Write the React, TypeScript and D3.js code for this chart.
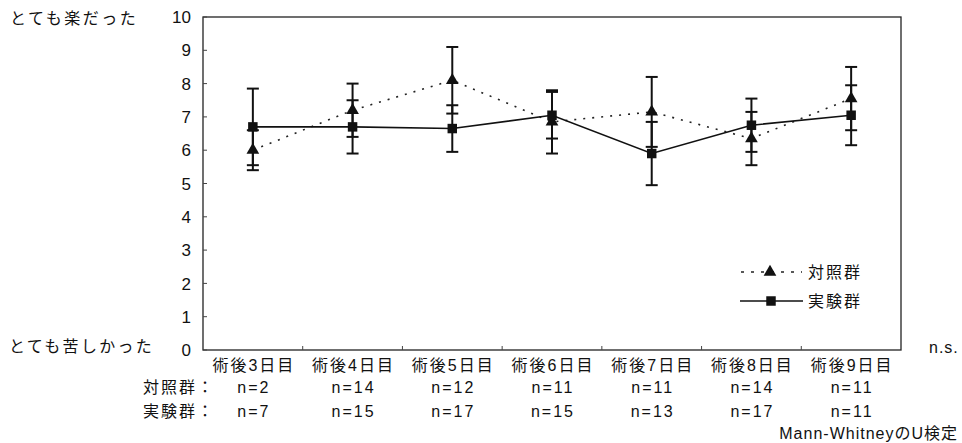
import React from 'react';
import * as d3 from 'd3';

const days = ['術後3日目', '術後4日目', '術後5日目', '術後6日目', '術後7日目', '術後8日目', '術後9日目'];
const controlMean = [6.0, 7.2, 8.1, 6.85, 7.15, 6.35, 7.55];
const controlErr = [0.6, 0.8, 1.0, 0.95, 1.05, 0.8, 0.95];
const expMean = [6.7, 6.7, 6.65, 7.05, 5.9, 6.75, 7.05];
const expErr = [1.15, 0.8, 0.7, 0.7, 0.95, 0.8, 0.9];
const controlN = ['n=2', 'n=14', 'n=12', 'n=11', 'n=11', 'n=14', 'n=11'];
const expN = ['n=7', 'n=15', 'n=17', 'n=15', 'n=13', 'n=17', 'n=11'];
const yTicks = [0, 1, 2, 3, 4, 5, 6, 7, 8, 9, 10];

const W = 962;
const H = 443;
// latin glyphs from an Arial-like face, kana/kanji fall back to the CJK gothic
const FONT = '"Liberation Sans", "Noto Sans CJK JP", sans-serif';

export default function App() {
  const left = 203, right = 901, top = 17, bottom = 350;
  const x = d3.scaleBand<string>().domain(days).range([left, right]);
  const y = d3.scaleLinear().domain([0, 10]).range([bottom, top]);
  const cx = (i: number) => (x(days[i]) as number) + x.bandwidth() / 2;

  const line = d3.line<number>().x((_, i) => cx(i)).y((d) => y(d));
  const tri = d3.symbol().type(d3.symbolTriangle).size(70)();
  const sq = d3.symbol().type(d3.symbolSquare).size(90)();

  const errBars = (means: number[], errs: number[], key: string) =>
    means.map((m, i) => {
      const x0 = cx(i);
      const y1 = y(m + errs[i]);
      const y2 = y(m - errs[i]);
      return (
        <g key={key + i} stroke="#111" strokeWidth={2}>
          <line x1={x0} x2={x0} y1={y1} y2={y2} />
          <line x1={x0 - 6} x2={x0 + 6} y1={y1} y2={y1} />
          <line x1={x0 - 6} x2={x0 + 6} y1={y2} y2={y2} />
        </g>
      );
    });

  const txt = { fontSize: 16, fill: '#111', letterSpacing: 2 } as const;

  return (
    <svg width={W} height={H} style={{ position: 'absolute', left: 0, top: 0, background: '#fff' }} fontFamily={FONT}>
      <rect width={W} height={H} fill="#fff" />
      {/* frame */}
      <rect x={left} y={top} width={right - left} height={bottom - top} fill="none" stroke="#222" strokeWidth={1.3} />
      {/* y ticks */}
      {yTicks.map((t) => (
        <g key={t}>
          <line x1={left} x2={left + 4} y1={y(t)} y2={y(t)} stroke="#444" strokeWidth={1} />
          <text x={191} y={y(t)} dy="0.36em" textAnchor="end" fontSize={17} fill="#111">{t}</text>
        </g>
      ))}
      {/* x ticks */}
      {days.slice(1).map((d) => (
        <line key={d} x1={x(d) as number} x2={x(d) as number} y1={bottom} y2={bottom - 4} stroke="#444" strokeWidth={1} />
      ))}
      <text x={10} y={18} dy="0.36em" {...txt} letterSpacing={2.5}>とても楽だった</text>
      <text x={9} y={346} dy="0.36em" {...txt} letterSpacing={2.3}>とても苦しかった</text>

      {/* lines */}
      <path d={line(controlMean) || ''} fill="none" stroke="#222" strokeWidth={1.6} strokeDasharray="2 7" />
      <path d={line(expMean) || ''} fill="none" stroke="#111" strokeWidth={1.6} />
      {errBars(controlMean, controlErr, 'c')}
      {errBars(expMean, expErr, 'e')}
      {controlMean.map((m, i) => (
        <path key={'ct' + i} d={tri || ''} transform={`translate(${cx(i)},${y(m)})`} fill="#111" />
      ))}
      {expMean.map((m, i) => (
        <path key={'es' + i} d={sq || ''} transform={`translate(${cx(i)},${y(m)})`} fill="#111" />
      ))}

      {/* legend */}
      <line x1={741} x2={802} y1={272} y2={272} stroke="#222" strokeWidth={1.6} strokeDasharray="3 7" />
      <path d={tri || ''} transform="translate(770,272)" fill="#111" />
      <text x={808} y={272} dy="0.36em" {...txt}>対照群</text>
      <line x1={740} x2={803} y1={301} y2={301} stroke="#111" strokeWidth={1.6} />
      <path d={sq || ''} transform="translate(771,301)" fill="#111" />
      <text x={808} y={301} dy="0.36em" {...txt}>実験群</text>

      {/* category labels */}
      {days.map((d, i) => (
        <text key={d} x={cx(i) + 1} y={365} dy="0.36em" textAnchor="middle" {...txt}>{d}</text>
      ))}
      <text x={143} y={387} dy="0.36em" {...txt}>対照群：</text>
      <text x={143} y={411} dy="0.36em" {...txt}>実験群：</text>
      {controlN.map((n, i) => (
        <text key={'cn' + i} x={cx(i) + 1} y={387} dy="0.36em" textAnchor="middle" {...txt}>{n}</text>
      ))}
      {expN.map((n, i) => (
        <text key={'en' + i} x={cx(i) + 1} y={411} dy="0.36em" textAnchor="middle" {...txt}>{n}</text>
      ))}
      <text x={929} y={347} dy="0.36em" {...txt} letterSpacing={1}>n.s.</text>
      <text x={958} y={433} dy="0.36em" textAnchor="end" {...txt} letterSpacing={1}>Mann-WhitneyのU検定</text>
    </svg>
  );
}
